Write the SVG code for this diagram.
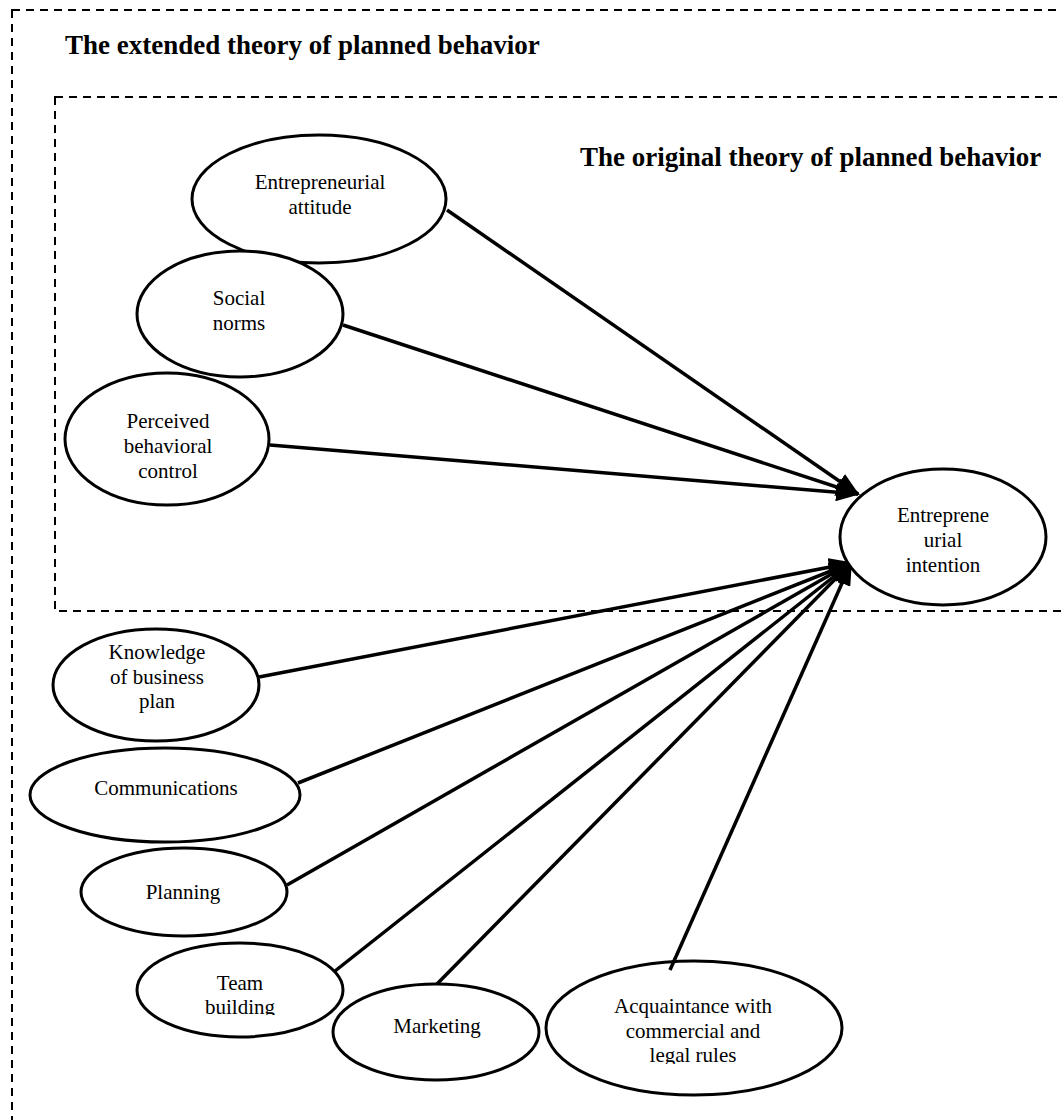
<svg xmlns="http://www.w3.org/2000/svg" width="1061" height="1120" viewBox="0 0 1061 1120">
<style>
.box{fill:none;stroke:#000;stroke-width:2;stroke-dasharray:8 6}
.node ellipse{fill:#fff;stroke:#000;stroke-width:3}
.node text{font-family:"Liberation Serif","Times New Roman",serif;font-size:21px;fill:#000;text-anchor:middle}
.title{font-family:"Liberation Serif","Times New Roman",serif;font-size:27px;font-weight:bold;fill:#000}
.conn line{stroke:#000;stroke-width:3.5;marker-end:url(#ah)}
</style>
<defs>
<marker id="ah" markerUnits="userSpaceOnUse" viewBox="0 0 24 18" refX="22" refY="9" markerWidth="24" markerHeight="18" orient="auto">
<path d="M0,0 L24,9 L0,18 z" fill="#000"/>
</marker>
<clipPath id="clipTeam"><rect x="100" y="940" width="300" height="75"/></clipPath>
<clipPath id="clipAcq"><rect x="540" y="960" width="310" height="104"/></clipPath>
</defs>
<rect width="1061" height="1120" fill="#fff"/>
<rect class="box" x="12" y="10" width="1100" height="1200"/>
<rect class="box" x="55" y="97" width="1100" height="514"/>
<text class="title" x="65" y="54">The extended theory of planned behavior</text>
<text class="title" x="580" y="166">The original theory of planned behavior</text>

<g class="conn">
<line x1="447" y1="210" x2="858" y2="494"/>
<line x1="343" y1="325" x2="858" y2="494"/>
<line x1="270" y1="445" x2="858" y2="494"/>
<line x1="259" y1="677" x2="851" y2="563"/>
<line x1="298" y1="783" x2="851" y2="563"/>
<line x1="287" y1="885" x2="851" y2="563"/>
<line x1="335" y1="971" x2="851" y2="563"/>
<line x1="437" y1="984" x2="851" y2="563"/>
<line x1="670" y1="970" x2="851" y2="563"/>
</g>

<g id="attitude" class="node"><ellipse cx="319" cy="199" rx="127" ry="64"/><text><tspan x="320" y="189">Entrepreneurial</tspan><tspan x="320" y="214">attitude</tspan></text></g>
<g id="social" class="node"><ellipse cx="240" cy="314" rx="103" ry="63"/><text><tspan x="239" y="305">Social</tspan><tspan x="239" y="330">norms</tspan></text></g>
<g id="pbc" class="node"><ellipse cx="167" cy="439" rx="102" ry="66"/><text><tspan x="168" y="428">Perceived</tspan><tspan x="168" y="453">behavioral</tspan><tspan x="168" y="478">control</tspan></text></g>
<g id="intention" class="node"><ellipse cx="943" cy="537" rx="103" ry="68"/><text><tspan x="943" y="522">Entreprene</tspan><tspan x="943" y="547">urial</tspan><tspan x="943" y="572">intention</tspan></text></g>
<g id="knowledge" class="node"><ellipse cx="156" cy="685" rx="103" ry="56"/><text><tspan x="157" y="659">Knowledge</tspan><tspan x="157" y="684">of business</tspan><tspan x="157" y="708">plan</tspan></text></g>
<g id="communications" class="node"><ellipse cx="165" cy="795" rx="135" ry="47"/><text x="166" y="795">Communications</text></g>
<g id="planning" class="node"><ellipse cx="184" cy="892" rx="103" ry="44"/><text x="183" y="899">Planning</text></g>
<g id="team" class="node"><ellipse cx="240" cy="990" rx="103" ry="47"/><text clip-path="url(#clipTeam)"><tspan x="240" y="990">Team</tspan><tspan x="240" y="1014">building</tspan></text></g>
<g id="marketing" class="node"><ellipse cx="436" cy="1032" rx="103" ry="48"/><text x="437" y="1033">Marketing</text></g>
<g id="acquaintance" class="node"><ellipse cx="694" cy="1028" rx="148" ry="67"/><text clip-path="url(#clipAcq)"><tspan x="693" y="1013">Acquaintance with</tspan><tspan x="693" y="1038">commercial and</tspan><tspan x="693" y="1062">legal rules</tspan></text></g>
<line x1="670" y1="970" x2="674" y2="961" stroke="#000" stroke-width="3.5"/>
</svg>
